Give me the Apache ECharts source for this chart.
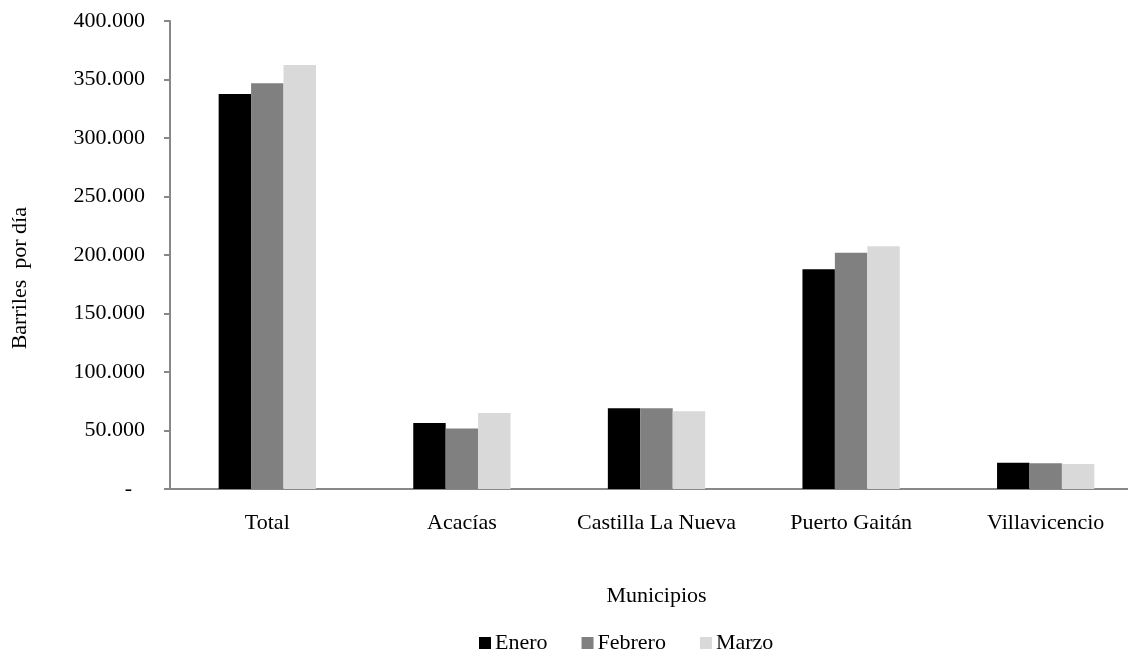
<!DOCTYPE html>
<html><head><meta charset="utf-8">
<script src="https://cdn.jsdelivr.net/npm/echarts@6/dist/echarts.min.js"></script>
<style>html,body{margin:0;padding:0;background:#fff;overflow:hidden}#c{width:1160px;height:649px}</style>
</head><body><div id="c"></div>
<script>
const categories = ['Total', 'Acacías', 'Castilla La Nueva', 'Puerto Gaitán', 'Villavicencio'];
const enero = [337600, 56400, 69000, 187800, 22500];
const febrero = [346700, 51700, 69000, 202000, 22000];
const marzo = [362400, 65000, 66400, 207400, 21400];
const seriesNames = ['Enero', 'Febrero', 'Marzo'];
const colors = ['#000000', '#808080', '#d9d9d9'];
const yTicks = [0, 50000, 100000, 150000, 200000, 250000, 300000, 350000, 400000];

const FONT = 'Liberation Serif';
const FS = 22;
function fmt(v) {
  if (v === 0) return '{z|-}';
  return String(v).replace(/\B(?=(\d{3})+(?!\d))/g, '.');
}
const chart = echarts.init(document.getElementById('c'));
chart.setOption({
  animation: false,
  color: colors,
  textStyle: { fontFamily: FONT, color: '#000' },
  grid: { left: 170, width: 973, top: 21, height: 468, containLabel: false },
  legend: {
    data: seriesNames,
    left: 474, top: 627,
    itemWidth: 12, itemHeight: 12, itemGap: 34,
    icon: 'rect',
    textStyle: { fontFamily: FONT, fontSize: FS, color: '#000', padding: [0, 0, 0, -1] }
  },
  xAxis: {
    type: 'category',
    data: categories,
    name: 'Municipios',
    nameLocation: 'middle',
    nameGap: 96,
    nameTextStyle: { fontFamily: FONT, fontSize: FS, color: '#000' },
    axisLine: { lineStyle: { color: '#888', width: 2 } },
    axisTick: { show: false },
    axisLabel: { fontFamily: FONT, fontSize: FS, color: '#000', margin: 23, interval: 0 }
  },
  yAxis: {
    type: 'value',
    min: yTicks[0], max: yTicks[yTicks.length - 1], interval: 50000,
    axisLine: { show: true, lineStyle: { color: '#888', width: 2 } },
    axisTick: { show: true, length: 6, lineStyle: { color: '#888', width: 2 } },
    splitLine: { show: false },
    axisLabel: {
      fontFamily: FONT, fontSize: FS, color: '#000', margin: 25,
      formatter: fmt,
      rich: { z: { fontFamily: FONT, fontSize: FS, color: '#000', padding: [0, 13, 0, 0] } }
    }
  },
  graphic: [{
    type: 'text',
    left: 9, top: 207,
    rotation: Math.PI / 2,
    style: { text: 'Barriles  por día', fontFamily: FONT, fontSize: FS, fill: '#000' }
  }],
  series: [
    { name: seriesNames[0], type: 'bar', data: enero, barGap: '0%', barCategoryGap: '50%' },
    { name: seriesNames[1], type: 'bar', data: febrero, barGap: '0%', barCategoryGap: '50%' },
    { name: seriesNames[2], type: 'bar', data: marzo, barGap: '0%', barCategoryGap: '50%' }
  ]
});
</script></body></html>
